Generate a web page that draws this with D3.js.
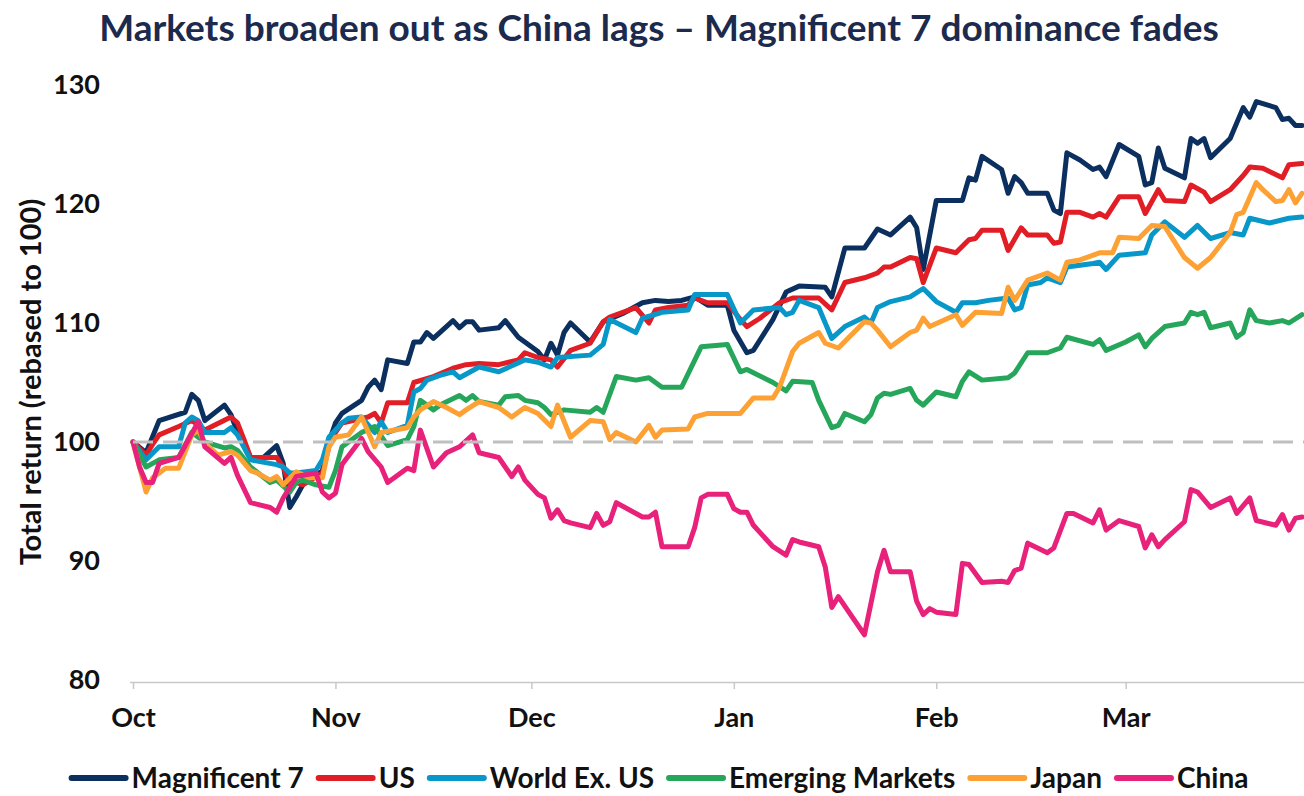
<!DOCTYPE html>
<html>
<head>
<meta charset="utf-8">
<script src="https://cdn.jsdelivr.net/npm/d3@7"></script>
<style>
  html, body { margin: 0; padding: 0; background: #ffffff; }
  svg { display: block; font-family: Lato, "Open Sans", sans-serif; }
</style>
</head>
<body>
<svg id="chart" width="1304" height="796"></svg>
<script>
// ---------------- DATA ----------------
const chartTitle = "Markets broaden out as China lags \u2013 Magnificent 7 dominance fades";
const yAxisTitle = "Total return (rebased to 100)";
const yTicks = [80, 90, 100, 110, 120, 130];
const baseline = 100;
const seriesNames = ["Magnificent 7", "US", "World Ex. US", "Emerging Markets", "Japan", "China"];
const seriesColors = ["#0b2f5f", "#e11d25", "#0797c8", "#25a65a", "#fda134", "#e8217a"];

const mag7 = [["2023-10-01",100],["2023-10-03",99.1],["2023-10-05",101.8],["2023-10-09",102.5],["2023-10-10",104.0],["2023-10-11",103.5],["2023-10-12",101.8],["2023-10-15",103.1],["2023-10-16",102.3],["2023-10-17",100.8],["2023-10-19",98.7],["2023-10-21",98.7],["2023-10-23",99.7],["2023-10-24",98.2],["2023-10-25",94.5],["2023-10-26",95.4],["2023-10-27",96.4],["2023-10-30",97.6],["2023-10-31",100.0],["2023-11-01",101.6],["2023-11-02",102.4],["2023-11-05",103.5],["2023-11-06",104.6],["2023-11-07",105.2],["2023-11-08",104.4],["2023-11-09",106.9],["2023-11-12",106.6],["2023-11-13",108.4],["2023-11-14",108.4],["2023-11-15",109.2],["2023-11-16",108.7],["2023-11-19",110.2],["2023-11-20",109.6],["2023-11-21",110.1],["2023-11-22",110.1],["2023-11-23",109.4],["2023-11-26",109.6],["2023-11-27",110.2],["2023-11-29",108.8],["2023-11-30",108.4],["2023-12-02",107.6],["2023-12-03",106.9],["2023-12-04",108.3],["2023-12-05",107.3],["2023-12-06",109.2],["2023-12-07",110.0],["2023-12-10",108.4],["2023-12-12",110.1],["2023-12-15",110.8],["2023-12-18",111.7],["2023-12-20",111.9],["2023-12-22",111.8],["2023-12-24",111.9],["2023-12-26",112.2],["2023-12-28",111.5],["2023-12-31",111.5],["2024-01-01",109.4],["2024-01-03",107.5],["2024-01-04",107.7],["2024-01-07",110.3],["2024-01-09",112.6],["2024-01-11",113.1],["2024-01-15",113.0],["2024-01-16",112.2],["2024-01-18",116.3],["2024-01-21",116.3],["2024-01-23",117.9],["2024-01-25",117.4],["2024-01-28",118.9],["2024-01-29",118.0],["2024-01-30",114.5],["2024-02-01",120.3],["2024-02-05",120.3],["2024-02-06",122.2],["2024-02-07",122.0],["2024-02-08",124.0],["2024-02-11",122.9],["2024-02-12",120.9],["2024-02-13",122.3],["2024-02-14",121.8],["2024-02-15",120.9],["2024-02-18",120.9],["2024-02-19",119.5],["2024-02-20",119.2],["2024-02-21",124.3],["2024-02-23",123.7],["2024-02-25",122.9],["2024-02-26",123.1],["2024-02-27",122.3],["2024-02-29",125.0],["2024-03-03",124.0],["2024-03-04",121.6],["2024-03-05",121.8],["2024-03-06",124.7],["2024-03-07",123.0],["2024-03-10",122.2],["2024-03-11",125.5],["2024-03-12",125.1],["2024-03-13",125.5],["2024-03-14",123.9],["2024-03-17",125.5],["2024-03-19",128.1],["2024-03-20",127.3],["2024-03-21",128.6],["2024-03-24",128.1],["2024-03-25",127.1],["2024-03-26",127.2],["2024-03-27",126.6],["2024-03-28",126.6]];

const us = [["2023-10-01",100],["2023-10-03",98.9],["2023-10-04",99.8],["2023-10-05",100.6],["2023-10-08",101.3],["2023-10-10",101.8],["2023-10-12",101.0],["2023-10-16",102.1],["2023-10-17",101.6],["2023-10-18",100.2],["2023-10-19",98.7],["2023-10-23",98.7],["2023-10-24",97.9],["2023-10-25",96.4],["2023-10-26",96.6],["2023-10-27",96.4],["2023-10-30",97.4],["2023-10-31",99.6],["2023-11-01",100.8],["2023-11-02",101.6],["2023-11-06",102.1],["2023-11-07",102.4],["2023-11-08",101.6],["2023-11-09",103.3],["2023-11-12",103.3],["2023-11-13",105.0],["2023-11-16",105.5],["2023-11-19",106.2],["2023-11-21",106.5],["2023-11-23",106.6],["2023-11-26",106.5],["2023-11-29",106.9],["2023-11-30",107.5],["2023-12-02",107.1],["2023-12-04",106.9],["2023-12-05",106.3],["2023-12-07",107.7],["2023-12-10",108.3],["2023-12-12",110.1],["2023-12-13",110.5],["2023-12-17",111.3],["2023-12-19",110.0],["2023-12-20",111.1],["2023-12-22",111.3],["2023-12-25",111.5],["2023-12-26",112.1],["2023-12-28",111.7],["2023-12-31",111.7],["2024-01-02",110.3],["2024-01-03",109.7],["2024-01-05",110.4],["2024-01-08",111.7],["2024-01-10",112.1],["2024-01-14",112.1],["2024-01-16",111.1],["2024-01-18",113.4],["2024-01-21",113.8],["2024-01-23",114.2],["2024-01-24",114.7],["2024-01-25",114.7],["2024-01-28",115.5],["2024-01-29",115.4],["2024-01-30",113.4],["2024-02-01",116.3],["2024-02-04",115.9],["2024-02-06",117.0],["2024-02-07",117.1],["2024-02-08",117.8],["2024-02-11",117.8],["2024-02-12",116.1],["2024-02-14",118.0],["2024-02-15",117.4],["2024-02-18",117.4],["2024-02-19",116.7],["2024-02-20",116.8],["2024-02-21",119.3],["2024-02-23",119.3],["2024-02-25",118.9],["2024-02-26",119.2],["2024-02-27",118.9],["2024-02-29",120.6],["2024-03-03",120.6],["2024-03-04",119.2],["2024-03-06",121.2],["2024-03-07",120.3],["2024-03-10",120.2],["2024-03-11",121.6],["2024-03-13",121.0],["2024-03-14",120.2],["2024-03-17",121.2],["2024-03-19",122.4],["2024-03-20",123.1],["2024-03-22",123.0],["2024-03-25",122.2],["2024-03-26",123.3],["2024-03-28",123.4]];

const worldExUs = [["2023-10-01",100],["2023-10-03",98.5],["2023-10-05",99.6],["2023-10-08",99.6],["2023-10-09",101.6],["2023-10-10",102.1],["2023-10-11",101.8],["2023-10-12",100.8],["2023-10-15",100.8],["2023-10-16",101.2],["2023-10-17",100.6],["2023-10-19",98.5],["2023-10-23",98.1],["2023-10-24",97.9],["2023-10-25",97.4],["2023-10-26",97.4],["2023-10-29",97.6],["2023-10-30",98.5],["2023-10-31",100.4],["2023-11-02",101.6],["2023-11-03",102.0],["2023-11-05",102.1],["2023-11-07",100.8],["2023-11-08",101.7],["2023-11-09",100.8],["2023-11-12",101.4],["2023-11-13",104.2],["2023-11-14",104.5],["2023-11-15",105.2],["2023-11-17",105.6],["2023-11-19",105.9],["2023-11-20",105.4],["2023-11-23",106.3],["2023-11-26",105.9],["2023-11-30",106.9],["2023-12-02",106.7],["2023-12-04",106.3],["2023-12-05",107.1],["2023-12-10",107.3],["2023-12-12",108.2],["2023-12-13",110.3],["2023-12-17",109.2],["2023-12-18",110.4],["2023-12-21",110.9],["2023-12-25",111.1],["2023-12-26",112.4],["2023-12-28",112.4],["2023-12-31",112.4],["2024-01-02",110.0],["2024-01-04",111.1],["2024-01-08",111.3],["2024-01-09",110.7],["2024-01-10",110.9],["2024-01-11",111.9],["2024-01-14",111.3],["2024-01-16",108.7],["2024-01-18",109.7],["2024-01-21",110.5],["2024-01-22",110.0],["2024-01-23",111.3],["2024-01-25",111.8],["2024-01-28",112.2],["2024-01-30",112.9],["2024-02-01",111.8],["2024-02-04",110.9],["2024-02-05",111.7],["2024-02-07",111.7],["2024-02-09",111.9],["2024-02-12",112.1],["2024-02-13",111.1],["2024-02-14",111.3],["2024-02-15",113.2],["2024-02-17",113.4],["2024-02-18",113.8],["2024-02-20",113.4],["2024-02-21",114.7],["2024-02-25",115.0],["2024-02-26",115.1],["2024-02-27",114.5],["2024-02-29",115.7],["2024-03-04",115.9],["2024-03-05",117.4],["2024-03-07",118.5],["2024-03-10",117.2],["2024-03-12",118.2],["2024-03-14",117.1],["2024-03-17",117.6],["2024-03-19",117.4],["2024-03-20",118.8],["2024-03-23",118.4],["2024-03-26",118.8],["2024-03-28",118.9]];

const emerging = [["2023-10-01",100],["2023-10-03",97.9],["2023-10-05",98.5],["2023-10-08",98.7],["2023-10-10",100.8],["2023-10-12",100.0],["2023-10-15",99.5],["2023-10-16",99.6],["2023-10-17",99.3],["2023-10-19",97.9],["2023-10-22",96.6],["2023-10-23",96.8],["2023-10-25",95.8],["2023-10-26",96.6],["2023-10-27",96.8],["2023-10-29",96.4],["2023-10-31",96.2],["2023-11-01",97.6],["2023-11-02",99.6],["2023-11-05",100.8],["2023-11-07",101.3],["2023-11-09",99.7],["2023-11-12",100.2],["2023-11-13",101.3],["2023-11-14",103.5],["2023-11-16",102.7],["2023-11-17",103.1],["2023-11-20",103.9],["2023-11-21",103.5],["2023-11-22",103.9],["2023-11-23",103.4],["2023-11-26",103.1],["2023-11-27",103.8],["2023-11-29",103.9],["2023-11-30",103.5],["2023-12-02",103.3],["2023-12-03",102.9],["2023-12-04",102.3],["2023-12-06",102.7],["2023-12-10",102.5],["2023-12-11",102.9],["2023-12-12",102.5],["2023-12-14",105.5],["2023-12-17",105.2],["2023-12-19",105.4],["2023-12-21",104.6],["2023-12-24",104.6],["2023-12-27",108.0],["2023-12-31",108.2],["2024-01-02",105.9],["2024-01-03",106.1],["2024-01-07",105.0],["2024-01-09",104.3],["2024-01-10",105.1],["2024-01-13",105.0],["2024-01-14",103.5],["2024-01-16",101.2],["2024-01-17",101.4],["2024-01-18",102.4],["2024-01-21",101.7],["2024-01-22",102.3],["2024-01-23",103.7],["2024-01-24",104.1],["2024-01-25",104.0],["2024-01-28",104.5],["2024-01-29",103.5],["2024-01-30",103.1],["2024-02-01",104.2],["2024-02-04",103.8],["2024-02-05",105.1],["2024-02-06",105.9],["2024-02-08",105.2],["2024-02-12",105.4],["2024-02-13",105.8],["2024-02-15",107.5],["2024-02-18",107.5],["2024-02-20",107.9],["2024-02-21",108.8],["2024-02-25",108.2],["2024-02-26",108.6],["2024-02-27",107.7],["2024-03-01",108.4],["2024-03-03",109.0],["2024-03-04",108.0],["2024-03-05",108.7],["2024-03-07",109.7],["2024-03-10",110.0],["2024-03-11",110.9],["2024-03-12",110.7],["2024-03-13",110.9],["2024-03-14",109.6],["2024-03-17",110.0],["2024-03-18",108.8],["2024-03-19",109.2],["2024-03-20",111.1],["2024-03-21",110.2],["2024-03-23",110.0],["2024-03-25",110.2],["2024-03-26",110.0],["2024-03-28",110.7]];

const japan = [["2023-10-01",100],["2023-10-03",95.8],["2023-10-04",97.0],["2023-10-06",97.8],["2023-10-08",97.8],["2023-10-10",100.6],["2023-10-11",101.0],["2023-10-12",99.9],["2023-10-14",98.9],["2023-10-16",99.2],["2023-10-17",98.9],["2023-10-19",97.6],["2023-10-20",97.4],["2023-10-22",96.8],["2023-10-23",97.1],["2023-10-24",96.4],["2023-10-26",97.5],["2023-10-28",97.0],["2023-10-30",97.0],["2023-10-31",99.6],["2023-11-01",100.4],["2023-11-03",100.6],["2023-11-05",102.1],["2023-11-07",99.6],["2023-11-08",100.8],["2023-11-12",101.2],["2023-11-13",102.1],["2023-11-14",102.7],["2023-11-16",103.4],["2023-11-18",102.9],["2023-11-20",102.3],["2023-11-21",102.7],["2023-11-23",103.4],["2023-11-26",102.9],["2023-11-28",102.1],["2023-11-30",102.9],["2023-12-02",102.4],["2023-12-04",101.3],["2023-12-05",103.1],["2023-12-07",100.4],["2023-12-10",101.8],["2023-12-12",101.7],["2023-12-13",100.2],["2023-12-14",100.8],["2023-12-17",100.0],["2023-12-19",101.4],["2023-12-20",100.4],["2023-12-21",101.0],["2023-12-25",101.1],["2023-12-26",102.1],["2023-12-28",102.4],["2024-01-02",102.4],["2024-01-04",103.7],["2024-01-07",103.7],["2024-01-08",104.6],["2024-01-10",107.6],["2024-01-11",108.3],["2024-01-14",109.2],["2024-01-15",108.3],["2024-01-17",107.9],["2024-01-21",110.1],["2024-01-22",110.0],["2024-01-23",109.4],["2024-01-25",108.0],["2024-01-28",109.2],["2024-01-29",109.4],["2024-01-30",110.4],["2024-01-31",109.7],["2024-02-04",110.7],["2024-02-05",109.8],["2024-02-07",110.9],["2024-02-11",110.8],["2024-02-12",113.0],["2024-02-13",111.9],["2024-02-15",113.6],["2024-02-18",114.2],["2024-02-20",113.6],["2024-02-21",115.1],["2024-02-23",115.3],["2024-02-26",115.9],["2024-02-28",115.9],["2024-02-29",117.2],["2024-03-03",117.1],["2024-03-05",118.2],["2024-03-07",118.1],["2024-03-10",115.5],["2024-03-12",114.6],["2024-03-14",115.5],["2024-03-17",117.6],["2024-03-18",119.1],["2024-03-19",119.3],["2024-03-21",121.8],["2024-03-22",121.2],["2024-03-24",120.2],["2024-03-25",120.3],["2024-03-26",121.2],["2024-03-27",120.1],["2024-03-28",120.9]];

const china = [["2023-10-01",100],["2023-10-02",97.9],["2023-10-03",96.6],["2023-10-04",96.6],["2023-10-05",98.2],["2023-10-08",98.7],["2023-10-11",101.7],["2023-10-12",99.6],["2023-10-15",98.2],["2023-10-16",98.7],["2023-10-17",97.2],["2023-10-19",94.9],["2023-10-22",94.5],["2023-10-23",94.1],["2023-10-24",95.3],["2023-10-26",97.1],["2023-10-29",97.4],["2023-10-30",95.8],["2023-10-31",95.3],["2023-11-01",95.7],["2023-11-02",98.1],["2023-11-05",100.3],["2023-11-06",99.2],["2023-11-08",97.9],["2023-11-09",96.6],["2023-11-12",97.8],["2023-11-13",97.6],["2023-11-14",101.0],["2023-11-16",97.9],["2023-11-18",99.1],["2023-11-20",99.6],["2023-11-22",100.6],["2023-11-23",99.1],["2023-11-26",98.7],["2023-11-28",97.1],["2023-11-29",97.9],["2023-11-30",96.8],["2023-12-02",95.6],["2023-12-03",95.3],["2023-12-04",93.6],["2023-12-05",94.3],["2023-12-06",93.4],["2023-12-07",93.2],["2023-12-10",92.8],["2023-12-11",94.0],["2023-12-12",93.0],["2023-12-13",93.3],["2023-12-14",94.9],["2023-12-18",93.7],["2023-12-19",93.7],["2023-12-20",94.1],["2023-12-21",91.2],["2023-12-25",91.2],["2023-12-26",92.8],["2023-12-27",95.3],["2023-12-28",95.6],["2023-12-31",95.6],["2024-01-01",94.4],["2024-01-02",94.1],["2024-01-03",94.1],["2024-01-04",93.0],["2024-01-07",91.2],["2024-01-09",90.5],["2024-01-10",91.8],["2024-01-11",91.6],["2024-01-14",91.2],["2024-01-15",89.5],["2024-01-16",86.1],["2024-01-17",87.0],["2024-01-21",83.8],["2024-01-23",89.1],["2024-01-24",90.9],["2024-01-25",89.1],["2024-01-28",89.1],["2024-01-29",86.6],["2024-01-30",85.5],["2024-01-31",86.0],["2024-02-01",85.7],["2024-02-04",85.5],["2024-02-05",89.8],["2024-02-06",89.7],["2024-02-08",88.2],["2024-02-11",88.3],["2024-02-12",88.2],["2024-02-13",89.2],["2024-02-14",89.4],["2024-02-15",91.5],["2024-02-18",90.7],["2024-02-19",91.1],["2024-02-21",94.0],["2024-02-22",94.0],["2024-02-25",93.2],["2024-02-26",94.3],["2024-02-27",92.6],["2024-02-29",93.4],["2024-03-03",92.9],["2024-03-04",91.1],["2024-03-05",92.2],["2024-03-06",91.2],["2024-03-07",91.8],["2024-03-10",93.3],["2024-03-11",96.0],["2024-03-12",95.8],["2024-03-14",94.5],["2024-03-17",95.3],["2024-03-18",94.0],["2024-03-20",95.3],["2024-03-21",93.4],["2024-03-24",93.0],["2024-03-25",93.9],["2024-03-26",92.6],["2024-03-27",93.6],["2024-03-28",93.7]];

const seriesValues = [mag7, us, worldExUs, emerging, japan, china];
const xStart = "2023-10-01", xEnd = "2024-03-28";

// ---------------- CHART ----------------
const parse = d3.timeParse("%Y-%m-%d");
const svg = d3.select("#chart");
const W = 1304, H = 796;
const plot = { left: 133, right: 1302, top: 85, bottom: 680 };

const x = d3.scaleTime().domain([parse(xStart), parse(xEnd)]).range([plot.left, plot.right]);
const y = d3.scaleLinear().domain([d3.min(yTicks), d3.max(yTicks)]).range([plot.bottom, plot.top]);

// Title
svg.append("text")
  .attr("x", 659).attr("y", 41)
  .attr("text-anchor", "middle")
  .attr("font-size", 37).attr("font-weight", 700)
  .attr("fill", "#1c2a4d")
  .text(chartTitle);

// Y axis (labels only)
const yAxis = d3.axisLeft(y).tickValues(yTicks).tickSize(0).tickPadding(33).tickFormat(d3.format("d"));
const gy = svg.append("g").attr("transform", `translate(${plot.left},0)`).call(yAxis);
gy.select(".domain").remove();
gy.selectAll("text").attr("font-size", 27).attr("font-weight", 700).attr("fill", "#111").attr("font-family", "Lato, sans-serif");

// Y axis title
svg.append("text")
  .attr("transform", `translate(41,382) rotate(-90)`)
  .attr("text-anchor", "middle")
  .attr("font-size", 29).attr("font-weight", 700).attr("fill", "#111")
  .text(yAxisTitle);

// X axis
const xAxisY = 682;
const xAxis = d3.axisBottom(x).ticks(d3.timeMonth.every(1)).tickFormat(d3.timeFormat("%b")).tickSize(7).tickSizeOuter(0).tickPadding(19);
const gx = svg.append("g").attr("transform", `translate(0,${xAxisY})`).call(xAxis);
gx.select(".domain").attr("stroke", "#c8c8c8").attr("stroke-width", 1.5)
  .attr("d", `M${plot.left - 3},0.5H${W}`);
gx.selectAll(".tick line").attr("stroke", "#c8c8c8").attr("stroke-width", 1.5);
gx.selectAll(".tick text").attr("font-size", 27).attr("font-weight", 700).attr("fill", "#111").attr("font-family", "Lato, sans-serif");

// Lines
const line = d3.line().x(d => x(parse(d[0]))).y(d => y(d[1])).curve(d3.curveLinear);
const gLines = svg.append("g");
seriesValues.forEach((vals, i) => {
  gLines.append("path")
    .datum(vals)
    .attr("fill", "none")
    .attr("stroke", seriesColors[i])
    .attr("stroke-width", 5)
    .attr("stroke-linejoin", "round")
    .attr("stroke-linecap", "round")
    .attr("d", line);
});

// Baseline at 100 (dashed)
svg.append("line")
  .attr("x1", plot.left).attr("x2", W)
  .attr("y1", y(baseline)).attr("y2", y(baseline))
  .attr("stroke", "#bfbfbf").attr("stroke-width", 3)
  .attr("stroke-dasharray", "20,10");

// Legend
const legend = svg.append("g");
const legendY = 778;
const items = [];
seriesNames.forEach((name, i) => {
  const g = legend.append("g");
  g.append("line").attr("x1", 0).attr("x2", 54).attr("y1", 0).attr("y2", 0)
    .attr("stroke", seriesColors[i]).attr("stroke-width", 6).attr("stroke-linecap", "round");
  const t = g.append("text").attr("x", 60).attr("y", 0).attr("dy", "0.35em")
    .attr("font-size", 28).attr("font-weight", 700).attr("fill", "#111").text(name);
  const w = 60 + t.node().getComputedTextLength();
  items.push({ g, w });
});
const gap = 15;
const total = d3.sum(items, d => d.w) + gap * (items.length - 1);
let lx = 660 - total / 2;
items.forEach(it => {
  it.g.attr("transform", `translate(${lx},${legendY})`);
  lx += it.w + gap;
});
</script>
</body>
</html>
